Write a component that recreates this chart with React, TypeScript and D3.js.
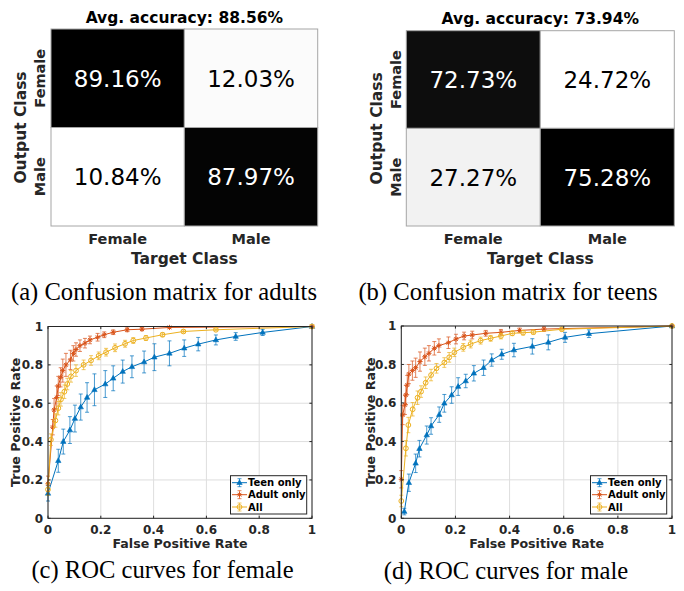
import React from "react";
import * as d3 from "d3";

// ---------------- data ----------------
const classes = ["Female", "Male"];
// rows = output class, cols = target class
const adultMatrix = [
  [89.16, 12.03],
  [10.84, 87.97],
];
const teenMatrix = [
  [72.73, 24.72],
  [27.27, 75.28],
];
const adultAvg = "88.56%";
const teenAvg = "73.94%";

const seriesNames = ["Teen only", "Adult only", "All"];
const seriesColors = ["#0072BD", "#D95319", "#EDB120"];
const seriesMarkers = ["triangle", "asterisk", "circle"];
const rocTicks = [0, 0.2, 0.4, 0.6, 0.8, 1];

// (c) female
const femTeenFpr = [0, 0.039, 0.058, 0.083, 0.102, 0.124, 0.148, 0.176, 0.217, 0.247, 0.283, 0.318, 0.364, 0.403, 0.46, 0.516, 0.569, 0.636, 0.711, 0.813, 1];
const femTeenTpr = [0.13, 0.3, 0.4, 0.46, 0.52, 0.58, 0.63, 0.67, 0.7, 0.73, 0.765, 0.79, 0.815, 0.84, 0.86, 0.887, 0.908, 0.93, 0.948, 0.969, 1];
const femTeenErr = [0.04, 0.06, 0.065, 0.07, 0.07, 0.068, 0.077, 0.083, 0.07, 0.065, 0.06, 0.057, 0.057, 0.07, 0.065, 0.043, 0.035, 0.026, 0.02, 0.016, 0];

const femAdultFpr = [0, 0.018, 0.023, 0.033, 0.039, 0.048, 0.056, 0.068, 0.085, 0.096, 0.106, 0.121, 0.14, 0.159, 0.188, 0.213, 0.247, 0.3, 0.356, 0.46, 1];
const femAdultTpr = [0.18, 0.475, 0.565, 0.63, 0.69, 0.735, 0.77, 0.8, 0.826, 0.86, 0.88, 0.9, 0.913, 0.93, 0.944, 0.957, 0.97, 0.983, 0.986, 0.995, 1];
const femAdultErr = [0.04, 0.04, 0.06, 0.06, 0.05, 0.05, 0.06, 0.06, 0.05, 0.04, 0.035, 0.03, 0.025, 0.02, 0.02, 0.015, 0.012, 0.01, 0.008, 0.005, 0];

const femAllFpr = [0, 0.011, 0.028, 0.039, 0.049, 0.062, 0.073, 0.087, 0.106, 0.135, 0.163, 0.192, 0.22, 0.254, 0.292, 0.323, 0.371, 0.434, 0.513, 0.636, 1];
const femAllTpr = [0.15, 0.41, 0.51, 0.574, 0.62, 0.66, 0.7, 0.74, 0.77, 0.8, 0.823, 0.847, 0.866, 0.889, 0.91, 0.927, 0.94, 0.957, 0.974, 0.983, 1];
const femAllErr = [0.03, 0.03, 0.035, 0.035, 0.035, 0.035, 0.03, 0.03, 0.03, 0.025, 0.025, 0.02, 0.02, 0.02, 0.018, 0.015, 0.013, 0.01, 0.008, 0.005, 0];

// (d) male
const maleTeenFpr = [0.011, 0.028, 0.053, 0.067, 0.094, 0.11, 0.14, 0.159, 0.186, 0.21, 0.238, 0.268, 0.304, 0.334, 0.371, 0.416, 0.484, 0.543, 0.605, 0.693, 1];
const maleTeenTpr = [0.035, 0.185, 0.286, 0.362, 0.433, 0.48, 0.539, 0.598, 0.641, 0.685, 0.714, 0.754, 0.783, 0.823, 0.853, 0.875, 0.894, 0.915, 0.941, 0.96, 1];
const maleTeenErr = [0.017, 0.045, 0.048, 0.043, 0.047, 0.043, 0.04, 0.046, 0.043, 0.046, 0.035, 0.04, 0.04, 0.032, 0.026, 0.035, 0.04, 0.039, 0.026, 0.02, 0];

const maleAdultFpr = [0, 0.005, 0.0135, 0.017, 0.022, 0.028, 0.041, 0.053, 0.069, 0.087, 0.102, 0.122, 0.139, 0.174, 0.202, 0.232, 0.262, 0.312, 0.368, 0.437, 0.527, 1];
const maleAdultTpr = [0.203, 0.537, 0.59, 0.641, 0.693, 0.75, 0.768, 0.783, 0.815, 0.84, 0.858, 0.884, 0.898, 0.913, 0.932, 0.948, 0.953, 0.962, 0.967, 0.977, 0.984, 1];
const maleAdultErr = [0.045, 0.05, 0.05, 0.05, 0.05, 0.05, 0.05, 0.05, 0.05, 0.045, 0.04, 0.035, 0.035, 0.03, 0.025, 0.02, 0.02, 0.015, 0.015, 0.012, 0.012, 0];

const maleAllFpr = [0, 0.017, 0.026, 0.042, 0.06, 0.073, 0.09, 0.11, 0.13, 0.159, 0.177, 0.196, 0.229, 0.256, 0.293, 0.33, 0.368, 0.41, 0.45, 0.488, 0.593, 1];
const maleAllTpr = [0.09, 0.364, 0.485, 0.567, 0.627, 0.659, 0.705, 0.745, 0.78, 0.81, 0.837, 0.863, 0.889, 0.906, 0.924, 0.936, 0.948, 0.962, 0.965, 0.968, 0.983, 1];
const maleAllErr = [0.03, 0.04, 0.04, 0.035, 0.035, 0.03, 0.03, 0.03, 0.025, 0.025, 0.025, 0.022, 0.02, 0.02, 0.018, 0.015, 0.015, 0.012, 0.012, 0.01, 0.008, 0];

// ---------------- components ----------------
const SANS = "'DejaVu Sans', Verdana, sans-serif";
const SERIF = "'Liberation Serif', 'Times New Roman', serif";
const AXIS_COLOR = "#262626";

type CMProps = {
  matrix: number[][];
  avg: string;
  caption: string;
  x0: number; x1: number; y0: number; y1: number;
  titleY: number;
  outLabelX: number; rowLabelX: number;
  captionX: number;
};

function ConfusionMatrix(p: CMProps) {
  const xb = d3.scaleBand<string>().domain(classes).range([p.x0, p.x1]);
  const yb = d3.scaleBand<string>().domain(classes).range([p.y0, p.y1]);
  const flat = p.matrix.flat();
  const shade = d3
    .scaleLinear<string>()
    .domain(d3.extent(flat) as [number, number])
    .range(["#ffffff", "#000000"]);
  const cx = (p.x0 + p.x1) / 2;
  const cy = (p.y0 + p.y1) / 2;
  return (
    <g>
      <text x={cx} y={p.titleY} textAnchor="middle" fontFamily={SANS} fontWeight="bold" fontSize={15.5} fill="#000">
        {`Avg. accuracy: ${p.avg}`}
      </text>
      {p.matrix.map((row, ri) =>
        row.map((v, ci) => {
          const fillC = shade(v);
          const dark = d3.hsl(fillC).l < 0.5;
          return (
            <g key={`${ri}-${ci}`}>
              <rect
                x={xb(classes[ci])}
                y={yb(classes[ri])}
                width={xb.bandwidth()}
                height={yb.bandwidth()}
                fill={fillC}
                stroke="#a6a6a6"
                strokeWidth={1}
              />
              <text
                x={(xb(classes[ci]) as number) + xb.bandwidth() / 2}
                y={(yb(classes[ri]) as number) + yb.bandwidth() / 2 + 8.4}
                textAnchor="middle"
                fontFamily={SANS}
                fontSize={23}
                fill={dark ? "#ffffff" : "#000000"}
              >
                {v.toFixed(2) + "%"}
              </text>
            </g>
          );
        })
      )}
      {classes.map((c) => (
        <text key={"xt" + c} x={(xb(c) as number) + xb.bandwidth() / 2} y={p.y1 + 18} textAnchor="middle"
          fontFamily={SANS} fontWeight="bold" fontSize={14.5} fill={AXIS_COLOR}>
          {c}
        </text>
      ))}
      <text x={cx} y={p.y1 + 37.5} textAnchor="middle" fontFamily={SANS} fontWeight="bold" fontSize={15.5} fill={AXIS_COLOR}>
        Target Class
      </text>
      {classes.map((c) => {
        const yy = (yb(c) as number) + yb.bandwidth() / 2;
        return (
          <text key={"yt" + c} transform={`translate(${p.rowLabelX},${yy}) rotate(-90)`} textAnchor="middle"
            fontFamily={SANS} fontWeight="bold" fontSize={14.5} fill={AXIS_COLOR}>
            {c}
          </text>
        );
      })}
      <text transform={`translate(${p.outLabelX},${cy}) rotate(-90)`} textAnchor="middle"
        fontFamily={SANS} fontWeight="bold" fontSize={15.5} fill={AXIS_COLOR}>
        Output Class
      </text>
      <text x={p.captionX} y={300} textAnchor="middle" fontFamily={SERIF} fontSize={24.6} fill="#000">
        {p.caption}
      </text>
    </g>
  );
}

type Series = { name: string; color: string; marker: string; fpr: number[]; tpr: number[]; err: number[] };

function Marker({ kind, x, y, color }: { kind: string; x: number; y: number; color: string }) {
  if (kind === "triangle") {
    const s = 3;
    return <path d={`M${x},${y - s}L${x + s * 0.9},${y + s * 0.6}L${x - s * 0.9},${y + s * 0.6}Z`} fill={color} stroke={color} strokeWidth={0.6} />;
  }
  if (kind === "asterisk") {
    const r = 2.6;
    const d = r * 0.72;
    return (
      <path
        d={`M${x - r},${y}L${x + r},${y}M${x},${y - r}L${x},${y + r}M${x - d},${y - d}L${x + d},${y + d}M${x - d},${y + d}L${x + d},${y - d}`}
        stroke={color}
        strokeWidth={1}
        fill="none"
      />
    );
  }
  return <circle cx={x} cy={y} r={2.4} fill="none" stroke={color} strokeWidth={1} />;
}

type ROCProps = {
  left: number; right: number; top: number; bottom: number;
  series: Series[];
  caption: string; captionX: number; captionY: number;
  yLabelX: number;
};

function ROC(p: ROCProps) {
  const x = d3.scaleLinear().domain([0, 1]).range([p.left, p.right]);
  const y = d3.scaleLinear().domain([0, 1]).range([p.bottom, p.top]);
  const tickLen = 2.6;
  const lg = { x0: p.right - 81.5, x1: p.right - 5.3, y0: p.bottom - 42.6, y1: p.bottom - 4.3 };
  const rowYs = [p.bottom - 35.6, p.bottom - 23.6, p.bottom - 11.3];
  return (
    <g>
      {/* grid */}
      {rocTicks.map((t) => (
        <g key={"g" + t}>
          <line x1={x(t)} x2={x(t)} y1={p.top} y2={p.bottom} stroke="#dedede" strokeWidth={1} />
          <line x1={p.left} x2={p.right} y1={y(t)} y2={y(t)} stroke="#dedede" strokeWidth={1} />
        </g>
      ))}
      {/* series */}
      {p.series.map((s) => {
        const pts = s.fpr.map((f, i) => [f, s.tpr[i], s.err[i]] as [number, number, number]);
        const line = d3
          .line<[number, number, number]>()
          .x((d) => x(d[0]))
          .y((d) => y(d[1]));
        return (
          <g key={s.name}>
            {pts.map((d, i) =>
              d[2] > 0 ? (
                <g key={"e" + i} stroke={s.color} strokeOpacity={0.7} strokeWidth={1}>
                  <line x1={x(d[0])} x2={x(d[0])} y1={y(Math.min(1, d[1] + d[2]))} y2={y(d[1] - d[2])} />
                  <line x1={x(d[0]) - 2} x2={x(d[0]) + 2} y1={y(Math.min(1, d[1] + d[2]))} y2={y(Math.min(1, d[1] + d[2]))} />
                  <line x1={x(d[0]) - 2} x2={x(d[0]) + 2} y1={y(d[1] - d[2])} y2={y(d[1] - d[2])} />
                </g>
              ) : null
            )}
            <path d={line(pts) as string} fill="none" stroke={s.color} strokeWidth={1} />
            {pts.map((d, i) => (
              <Marker key={"m" + i} kind={s.marker} x={x(d[0])} y={y(d[1])} color={s.color} />
            ))}
          </g>
        );
      })}
      {/* box + ticks */}
      <rect x={p.left} y={p.top} width={p.right - p.left} height={p.bottom - p.top} fill="none" stroke={AXIS_COLOR} strokeWidth={1} />
      {rocTicks.map((t) => (
        <g key={"t" + t} stroke={AXIS_COLOR} strokeWidth={1}>
          <line x1={x(t)} x2={x(t)} y1={p.bottom} y2={p.bottom - tickLen} />
          <line x1={x(t)} x2={x(t)} y1={p.top} y2={p.top + tickLen} />
          <line x1={p.left} x2={p.left + tickLen} y1={y(t)} y2={y(t)} />
          <line x1={p.right} x2={p.right - tickLen} y1={y(t)} y2={y(t)} />
        </g>
      ))}
      {rocTicks.map((t) => (
        <text key={"xl" + t} x={x(t)} y={p.bottom + 16} textAnchor="middle" fontFamily={SANS} fontWeight="bold" fontSize={12} fill={AXIS_COLOR}>
          {String(t)}
        </text>
      ))}
      {rocTicks.map((t) => (
        <text key={"yl" + t} x={p.left - 5} y={y(t) + 4.3} textAnchor="end" fontFamily={SANS} fontWeight="bold" fontSize={12} fill={AXIS_COLOR}>
          {String(t)}
        </text>
      ))}
      <text x={(p.left + p.right) / 2} y={p.bottom + 29.5} textAnchor="middle" fontFamily={SANS} fontWeight="bold" fontSize={12.6} fill={AXIS_COLOR}>
        False Positive Rate
      </text>
      <text transform={`translate(${p.yLabelX},${(p.top + p.bottom) / 2}) rotate(-90)`} textAnchor="middle" fontFamily={SANS} fontWeight="bold" fontSize={12.6} fill={AXIS_COLOR}>
        True Positive Rate
      </text>
      {/* legend */}
      <rect x={lg.x0} y={lg.y0} width={lg.x1 - lg.x0} height={lg.y1 - lg.y0} fill="#ffffff" stroke={AXIS_COLOR} strokeWidth={1} />
      {p.series.map((s, i) => {
        const ly = rowYs[i];
        const lx0 = lg.x0 + 1.5;
        const lx1 = lg.x0 + 16.5;
        const mx = (lx0 + lx1) / 2;
        return (
          <g key={"lg" + s.name}>
            <line x1={lx0} x2={lx1} y1={ly} y2={ly} stroke={s.color} strokeWidth={1} />
            <g stroke={s.color} strokeOpacity={0.7}>
              <line x1={mx} x2={mx} y1={ly - 4} y2={ly + 4} />
              <line x1={mx - 2} x2={mx + 2} y1={ly - 4} y2={ly - 4} />
              <line x1={mx - 2} x2={mx + 2} y1={ly + 4} y2={ly + 4} />
            </g>
            <Marker kind={s.marker} x={mx} y={ly} color={s.color} />
            <text x={lx1 + 1} y={ly + 3.7} fontFamily={SANS} fontWeight="bold" fontSize={10} fill="#000">
              {s.name}
            </text>
          </g>
        );
      })}
      <text x={p.captionX} y={p.captionY} textAnchor="middle" fontFamily={SERIF} fontSize={24.6} fill="#000">
        {p.caption}
      </text>
    </g>
  );
}

function makeSeries(fprs: number[][], tprs: number[][], errs: number[][]): Series[] {
  return seriesNames.map((name, i) => ({
    name,
    color: seriesColors[i],
    marker: seriesMarkers[i],
    fpr: fprs[i],
    tpr: tprs[i],
    err: errs[i],
  }));
}

export default function App() {
  const femSeries = makeSeries(
    [femTeenFpr, femAdultFpr, femAllFpr],
    [femTeenTpr, femAdultTpr, femAllTpr],
    [femTeenErr, femAdultErr, femAllErr]
  );
  const maleSeries = makeSeries(
    [maleTeenFpr, maleAdultFpr, maleAllFpr],
    [maleTeenTpr, maleAdultTpr, maleAllTpr],
    [maleTeenErr, maleAdultErr, maleAllErr]
  );
  return (
    <svg width={684} height={591} style={{ position: "absolute", left: 0, top: 0, background: "#fff" }}>
      <rect x={0} y={0} width={684} height={591} fill="#ffffff" />
      <ConfusionMatrix matrix={adultMatrix} avg={adultAvg} caption="(a) Confusion matrix for adults"
        x0={51} x1={317.7} y0={29} y1={226} titleY={22.5} outLabelX={25.5} rowLabelX={44.5} captionX={164} />
      <ConfusionMatrix matrix={teenMatrix} avg={teenAvg} caption="(b) Confusion matrix for teens"
        x0={406.3} x1={674.3} y0={30.7} y1={226} titleY={24} outLabelX={382} rowLabelX={400.5} captionX={508} />
      <ROC left={48} right={312} top={326.5} bottom={518.3} series={femSeries}
        caption="(c) ROC curves for female" captionX={162.5} captionY={578} yLabelX={19.5} />
      <ROC left={401.3} right={672} top={326} bottom={518.3} series={maleSeries}
        caption="(d) ROC curves for male" captionX={506} captionY={579} yLabelX={374.5} />
    </svg>
  );
}
